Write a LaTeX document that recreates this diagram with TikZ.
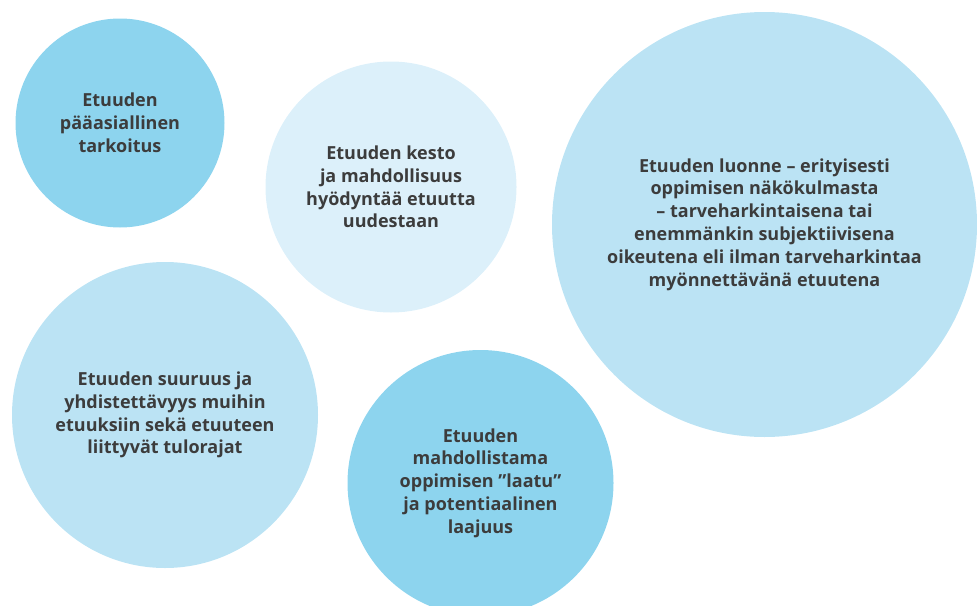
\documentclass[tikz,border=0pt]{standalone}
\usepackage{fontspec}
\setmainfont{Open Sans}
\definecolor{cdark}{HTML}{8DD4EE}
\definecolor{cmid}{HTML}{BBE3F4}
\definecolor{clight}{HTML}{DCF0FA}
\definecolor{ctext}{HTML}{3C3C3C}
\begin{document}
\begin{tikzpicture}[x=1pt,y=-1pt,
  bubble/.style={circle,inner sep=0pt,align=center,text=ctext,
    font=\fontsize{18}{22.8}\selectfont\bfseries}]
\useasboundingbox (0,0) rectangle (977,605);
\begin{scope}
\clip (0,0) rectangle (977,605);
\node[bubble,fill=cdark,minimum size=209pt] (purpose) at (120,123)
  {Etuuden\\pääasiallinen\\tarkoitus};
\node[bubble,fill=clight,minimum size=251pt] (duration) at (391,187)
  {Etuuden kesto\\ja mahdollisuus\\hyödyntää etuutta\\uudestaan};
\node[bubble,fill=cmid,minimum size=425pt] (nature) at (764.5,224.5)
  {Etuuden luonne – erityisesti\\oppimisen näkökulmasta\\– tarveharkintaisena tai\\enemmänkin subjektiivisena\\oikeutena eli ilman tarveharkintaa\\myönnettävänä etuutena};
\node[bubble,fill=cmid,minimum size=306pt] (amount) at (165,415)
  {Etuuden suuruus ja\\yhdistettävyys muihin\\etuuksiin sekä etuuteen\\liittyvät tulorajat};
\node[bubble,fill=cdark,minimum size=266pt] (quality) at (480.5,483)
  {Etuuden\\mahdollistama\\oppimisen ”laatu”\\ja potentiaalinen\\laajuus};
\end{scope}
\end{tikzpicture}
\end{document}
